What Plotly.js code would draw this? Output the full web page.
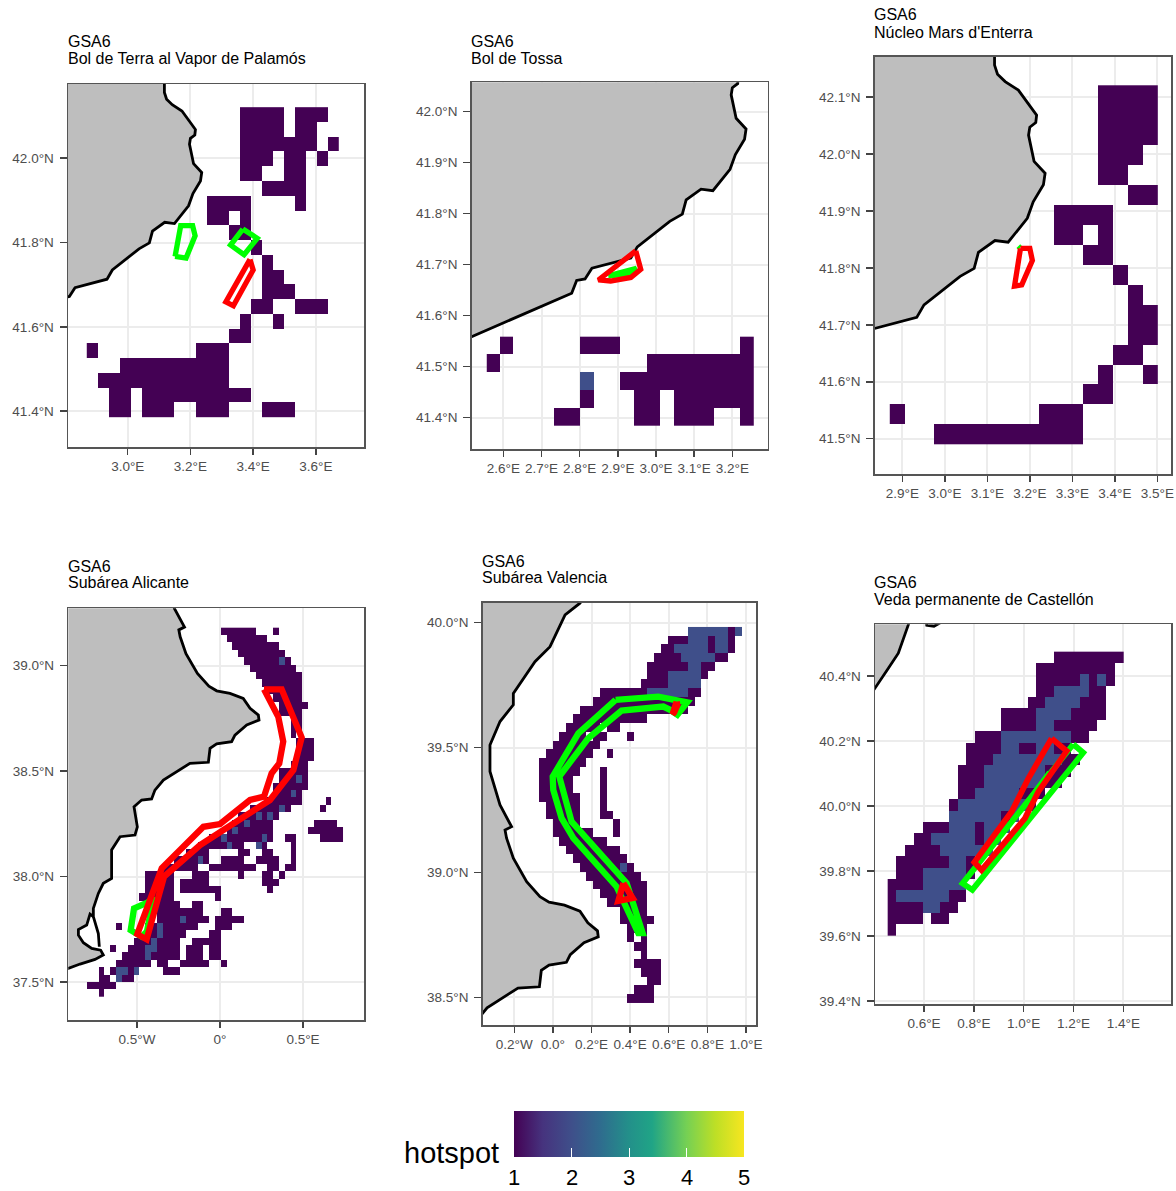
<!DOCTYPE html>
<html>
<head>
<meta charset="utf-8">
<script src="https://cdn.plot.ly/plotly-3.0.1.min.js"></script>
<style>html,body{margin:0;padding:0;background:#fff}</style>
</head>
<body>
<div id="chart" style="width:1176px;height:1191px"></div>
<script>
// ---------- hotspot cells: one string per row, "a-b c" = value 1 columns, after "|" = value 2 columns
const cellSize = 0.035;
const palamosRows = ["14-17 19-21","14-17 19-20","14-20 22","14-16 18-19 21","14-15 18-19","16-19","11-14 19","11-12 14","13-14","15","16","16-17","16-18","15-16 19-21","14 17","13-14","0 10-12","3-12","1-12","2-3 5-14","2-3 5-7 10-12 16-18"];
const tossaRows = ["1 7-9 19","0 12-19","10-19 | 7","7 11-12 14-19","5-6 11-12 14-16 19"];
const enterraRows = ["14-17","14-17","14-17","14-16","14-15","16-17","11-14","11-12 14","13-14","15","16","16-17","16-17","15-16","14 17","13-14","0 10-12","3-12"];
const alicanteRows = [
"23-28 32","24-30","25-32","26-33","27-34 | 33","28-35","29-36","30-36","31-36","32-36","33-37","33-36","35-36","35-36","35",
"36-38","36-38","36-38","35-37","33-37","33-37 | 36","32-37","32-36 | 35","31-36 41","28-34 40 | 33",
"26-32 | 29 31","25-31 39-42 | 27","24-31 38-43 | 25","21-31 34-35 40-43 | 23 30","19-26 29-30 35 | 24 29","17-20 26-27 30-31 35","15-20 23-26 29-32 35 | 19",
"13-18 21-28 31 32 34-35","10-14 18-20 26 30-31 33","10-14 16-20 30-32","10-14 16-22 31","9-14 22","10-15 18-19","12-19 23-24","12-20 22-26 | 16",
"5 10-18 22-24 | 12","10-16 21-22 | 12","8-15 18-22 | 11","4 7-15 17-19 21-22 | 10 11","6-15 17-19 21-22 | 10","5-10 12-13 16-20 23","2 4-8 13-15 | 5 6 8","2-3 5-7 | 5","0-4","2"];
const valenciaRows = [
"28 | 22-27 29","19-21 25 28 | 22-24 26-27","18-19 25 28 | 20-24 26-27","17-20 26-27 | 21-25","16-21 24-25 | 22-23","16-18 24 | 19-23","15-18 | 19-23","9-15 22-23 | 16-21","8-22","6-21",
"5-15","4-8 10-11","3-6 8-9 13","2-8","1-7 10","0-6","0-5 9","0-4 9","0-4 9","0-5 9","1-5 9","1-5 9-10","2-5 11","2-7 11","3-9","4-11","5-12","6-13 | 12","7-14","8-15","9-15","10-15","12-15","12-16","13-15","13 15","14-15","15","14-17","15-17","16-17","14-16","13-16"];
const castellonRows = [
"19-26","17-25","17-21 23 25 | 22 24","17-18 23-24 | 19-22","16-17 22-24 | 18-21","13-16 21-24 | 17-20","13-16 19-23 | 17-18","10-12 21-22 | 13-20","9-12 15-16 19-20 | 13-14 17-18","9-11 20-21 | 12-19",
"8-10 18-20 | 11-17","8-10 18-19 | 11-17","8-9 15-17 | 10-14","7 16 | 8-15","13 | 7-12 14","4-6 10 | 7-9 11-13","3-4 10 | 5-9 11-12","2-5 | 6-11","1-6 9 | 7-8","1-3 9 | 4-8","0-3 | 4-8","0 7-8 | 1-6","0-3 6-7 | 4-5","0-3 5-6","0"];

// ---------- coastlines [lon, lat]
const coastNorth = [[2.4,41.521],[2.517,41.559],[2.779,41.644],[2.792,41.669],[2.814,41.672],[2.832,41.693],[2.906,41.708],[2.934,41.713],[2.951,41.735],[3.036,41.785],[3.069,41.799],[3.079,41.827],[3.118,41.848],[3.149,41.845],[3.194,41.887],[3.208,41.916],[3.232,41.946],[3.236,41.966],[3.21,41.987],[3.197,42.033],[3.2,42.047],[3.214,42.055],[3.216,42.068],[3.173,42.112],[3.142,42.127],[3.124,42.14],[3.117,42.156],[3.117,42.3]];
const landNorthClose = [[2.4,42.3]];
const coastSouth = [[-1.0,37.545],[-0.914,37.564],[-0.843,37.585],[-0.753,37.607],[-0.703,37.628],[-0.719,37.651],[-0.773,37.659],[-0.823,37.686],[-0.853,37.722],[-0.853,37.749],[-0.803,37.77],[-0.783,37.822],[-0.763,37.81],[-0.763,37.849],[-0.733,37.92],[-0.703,37.968],[-0.653,37.991],[-0.653,38.126],[-0.602,38.189],[-0.512,38.197],[-0.498,38.236],[-0.518,38.331],[-0.472,38.363],[-0.412,38.368],[-0.392,38.41],[-0.341,38.458],[-0.181,38.537],[-0.07,38.542],[-0.06,38.608],[-0.02,38.629],[0.07,38.64],[0.09,38.671],[0.161,38.719],[0.235,38.742],[0.231,38.766],[0.181,38.798],[0.14,38.845],[0.06,38.869],[-0.02,38.881],[-0.067,38.903],[-0.136,38.963],[-0.205,39.057],[-0.24,39.137],[-0.248,39.17],[-0.214,39.183],[-0.274,39.27],[-0.326,39.404],[-0.326,39.51],[-0.274,39.604],[-0.205,39.671],[-0.205,39.717],[-0.093,39.844],[-0.015,39.904],[0.063,40.031],[0.14,40.078],[0.3,40.25],[0.403,40.362],[0.457,40.424],[0.497,40.47],[0.537,40.557],[0.56,40.62],[0.6,40.62],[0.611,40.556],[0.64,40.553],[0.68,40.57],[0.72,40.65]];
const landSouthClose = [[0.72,40.8],[-1.2,40.8],[-1.2,37.5]];
const lagoonBarrier = [[-0.763,37.81],[-0.747,37.77],[-0.733,37.73],[-0.727,37.667]];

// ---------- closure polygons [lon, lat]
const palamosGreenA = [[3.151,41.767],[3.169,41.84],[3.207,41.84],[3.215,41.816],[3.186,41.763]];
const palamosGreenB = [[3.367,41.832],[3.413,41.81],[3.371,41.771],[3.328,41.794]];
const palamosRed = [[3.39,41.76],[3.40,41.735],[3.337,41.65],[3.313,41.659]];
const tossaGreen = [[2.875,41.678],[2.949,41.693],[2.932,41.682]];
const tossaRed = [[2.947,41.727],[2.96,41.691],[2.934,41.675],[2.881,41.668],[2.849,41.67]];
const enterraGreen = [[3.173,41.838],[3.177,41.835]];
const enterraRed = [[3.178,41.834],[3.2,41.834],[3.206,41.813],[3.181,41.77],[3.164,41.768],[3.173,41.814]];
const alicanteGreen = [[-0.438,37.876],[-0.518,37.849],[-0.538,37.746],[-0.472,37.715],[-0.44,37.74],[-0.40,37.9]];
const alicanteRed = [[0.265,38.888],[0.3715,38.888],[0.492,38.66],[0.442,38.505],[0.301,38.363],[0.14,38.284],[-0.12,38.149],[-0.337,38.0],[-0.442,37.702],[-0.498,37.727],[-0.351,38.039],[-0.1,38.236],[0,38.249],[0.181,38.363],[0.265,38.379],[0.311,38.49],[0.357,38.537],[0.381,38.64],[0.351,38.758]];
const valenciaGreen = [[0.325,39.691],[0.546,39.704],[0.696,39.681],[0.645,39.631],[0.607,39.651],[0.572,39.664],[0.356,39.648],[0.183,39.537],[0.033,39.384],[0.097,39.203],[0.382,38.957],[0.465,38.757],[0.4425,38.757],[0.33,38.943],[0.106,39.137],[0.045,39.217],[0.002,39.33],[-0.001,39.384],[0.132,39.557]];
const valenciaRedA = [[0.365,38.957],[0.413,38.897],[0.339,38.886]];
const valenciaRedB = [[0.641,39.684],[0.645,39.67],[0.628,39.64],[0.62,39.633]];
const castellonGreenA = [[1.199,40.19],[1.239,40.164],[0.794,39.742],[0.755,39.762]];
const castellonGreenB = [[0.825,39.824],[1.099,40.106]];
const castellonRed = [[1.112,40.208],[1.1725,40.169],[1.059,40.044],[1.005,39.962],[0.831,39.803],[0.802,39.827],[0.952,39.983],[1.019,40.085]];

// ---------- titles and ticks
const mainTitle = "GSA6";
const subTitles = ["Bol de Terra al Vapor de Palamós","Bol de Tossa","Núcleo Mars d'Enterra","Subárea Alicante","Subárea Valencia","Veda permanente de Castellón"];
const ticksLon = [[3.0,3.2,3.4,3.6],[2.6,2.7,2.8,2.9,3.0,3.1,3.2],[2.9,3.0,3.1,3.2,3.3,3.4,3.5],[-0.5,0,0.5],[-0.2,0,0.2,0.4,0.6,0.8,1.0],[0.6,0.8,1.0,1.2,1.4]];
const labelsLon = [["3.0°E","3.2°E","3.4°E","3.6°E"],["2.6°E","2.7°E","2.8°E","2.9°E","3.0°E","3.1°E","3.2°E"],["2.9°E","3.0°E","3.1°E","3.2°E","3.3°E","3.4°E","3.5°E"],["0.5°W","0°","0.5°E"],["0.2°W","0.0°","0.2°E","0.4°E","0.6°E","0.8°E","1.0°E"],["0.6°E","0.8°E","1.0°E","1.2°E","1.4°E"]];
const ticksLat = [[41.4,41.6,41.8,42.0],[41.4,41.5,41.6,41.7,41.8,41.9,42.0],[41.5,41.6,41.7,41.8,41.9,42.0,42.1],[37.5,38.0,38.5,39.0],[38.5,39.0,39.5,40.0],[39.4,39.6,39.8,40.0,40.2,40.4]];
const labelsLat = [["41.4°N","41.6°N","41.8°N","42.0°N"],["41.4°N","41.5°N","41.6°N","41.7°N","41.8°N","41.9°N","42.0°N"],["41.5°N","41.6°N","41.7°N","41.8°N","41.9°N","42.0°N","42.1°N"],["37.5°N","38.0°N","38.5°N","39.0°N"],["38.5°N","39.0°N","39.5°N","40.0°N"],["39.4°N","39.6°N","39.8°N","40.0°N","40.2°N","40.4°N"]];
const legendTicks = [1,2,3,4,5];
const legendTitle = "hotspot";

// ---------- layout of the six panels (pixels, ranges, grid origin)
const W = 1176, H = 1191;
const panels = [
 {box:[68,364,84,447],   lon:[2.8096,3.7535], lat:[41.315,42.176],  x0:2.887,   y0:42.1035, rows:palamosRows, north:true, titleY:[42,59], titleX:68, green:[palamosGreenA,palamosGreenB], red:[palamosRed], lw:5.3},
 {box:[471.7,767.7,82.3,449], lon:[2.517,3.2927], lat:[41.3386,42.0576], x0:2.574, y0:41.5413, rows:tossaRows, north:true, titleY:[41,58], titleX:471, green:[tossaGreen], red:[tossaRed], lw:5.3},
 {box:[874.7,1171,56.7,474.3], lon:[2.835,3.5322], lat:[41.4375,42.1707], x0:2.888, y0:42.103, rows:enterraRows, north:true, titleY:[15,32], titleX:874, green:[enterraGreen], red:[enterraRed], lw:5.3},
 {box:[68.3,364,608.3,1020], lon:[-0.9139,0.8675], lat:[37.3197,39.2723], x0:-0.7837, y0:39.1628, rows:alicanteRows, north:false, titleY:[566,583], titleX:68, green:[alicanteGreen], red:[alicanteRed], lw:6.3},
 {box:[482.7,756,602.7,1025], lon:[-0.3637,1.0523], lat:[38.389,40.08], x0:-0.0545, y0:39.9653, rows:valenciaRows, north:false, titleY:[561,578], titleX:482, green:[valenciaGreen], red:[valenciaRedA,valenciaRedB], lw:6.3},
 {box:[875,1171,624.3,1004], lon:[0.4034,1.5912], lat:[39.3908,40.559], x0:0.4718, y0:40.4573, rows:castellonRows, north:false, titleY:[582,599], titleX:874, green:[castellonGreenA], red:[castellonRed], lw:5.8}
];

const colors = [[0,"#440154"],[0.125,"#46337e"],[0.25,"#3f4f8a"],[0.375,"#2f6c8e"],[0.5,"#23908a"],[0.6,"#20a486"],[0.75,"#75d054"],[0.875,"#bddf26"],[1,"#f7e620"]];
const fontFamily = "Liberation Sans, Arial, sans-serif";

function parseCols(s){
  const out=[];
  s.trim().split(/\s+/).filter(Boolean).forEach(t=>{
    const p=t.split("-").map(Number);
    const a=p[0], b=p.length>1?p[1]:p[0];
    for(let i=a;i<=b;i++) out.push(i);
  });
  return out;
}
function gridFromRows(rows){
  let maxCol=0;
  const parsed=rows.map(r=>{
    const parts=r.split("|");
    const ones=parseCols(parts[0]), twos=parts[1]?parseCols(parts[1]):[];
    ones.concat(twos).forEach(c=>{if(c>maxCol)maxCol=c;});
    return {ones,twos};
  });
  return parsed.map(p=>{
    const line=new Array(maxCol+1).fill(null);
    p.ones.forEach(c=>line[c]=1);
    p.twos.forEach(c=>line[c]=2);
    return line;
  });
}
const lons=a=>a.map(p=>p[0]);
const lats=a=>a.map(p=>p[1]);
const closed=a=>a.concat([a[0]]);
function textNote(px,py,text,size){
  return {xref:"paper",yref:"paper",x:px/W,y:1-py/H,xanchor:"left",yanchor:"middle",align:"left",showarrow:false,xshift:-2,text:text,font:{size:size,color:"#000",family:fontFamily}};
}

const traces=[];
const layout={
  width:W,height:H,margin:{l:0,r:0,t:0,b:0},paper_bgcolor:"#fff",plot_bgcolor:"#fff",showlegend:false,
  font:{family:fontFamily},annotations:[],shapes:[]
};
panels.forEach((p,i)=>{
  const n=i===0?"":String(i+1);
  const xa="x"+n, ya="y"+n;
  const axisCommon={
    showline:true,mirror:true,linecolor:"#555555",linewidth:1.5,
    showgrid:true,gridcolor:"#ececec",gridwidth:2,zeroline:false,
    ticks:"outside",tickwidth:1.5,tickcolor:"#444444",
    tickfont:{size:13.5,color:"#4d4d4d",family:fontFamily},
    tickmode:"array",fixedrange:true
  };
  layout["xaxis"+n]=Object.assign({},axisCommon,{domain:[p.box[0]/W,p.box[1]/W],anchor:ya,range:p.lon,tickvals:ticksLon[i],ticktext:labelsLon[i],ticklen:6});
  layout["yaxis"+n]=Object.assign({},axisCommon,{domain:[1-p.box[3]/H,1-p.box[2]/H],anchor:xa,range:p.lat,tickvals:ticksLat[i],ticktext:labelsLat[i],ticklen:7,ticklabelstandoff:3});

  const hm={type:"heatmap",xaxis:xa,yaxis:ya,z:gridFromRows(p.rows),x0:p.x0,dx:cellSize,y0:p.y0,dy:-cellSize,zmin:1,zmax:5,colorscale:colors,showscale:i===0,hoverinfo:"skip",zsmooth:false};
  if(i===0){
    hm.colorbar={orientation:"h",lenmode:"pixels",len:230,thicknessmode:"pixels",thickness:46,x:514/W,xanchor:"left",y:1-1166/H,yanchor:"bottom",xpad:0,ypad:0,
      tickmode:"array",tickvals:legendTicks,ticks:"inside",ticklen:9,tickwidth:1,tickcolor:"#ffffff",outlinewidth:0,borderwidth:0,showticklabels:false};
  }
  traces.push(hm);

  const coast=p.north?coastNorth:coastSouth;
  const land=coast.concat(p.north?landNorthClose:landSouthClose);
  traces.push({type:"scatter",mode:"lines",xaxis:xa,yaxis:ya,x:lons(closed(land)),y:lats(closed(land)),fill:"toself",fillcolor:"#bebebe",line:{width:0,color:"rgba(0,0,0,0)"},hoverinfo:"skip"});
  traces.push({type:"scatter",mode:"lines",xaxis:xa,yaxis:ya,x:lons(coast),y:lats(coast),line:{color:"#000",width:2.8},hoverinfo:"skip"});
  if(!p.north) traces.push({type:"scatter",mode:"lines",xaxis:xa,yaxis:ya,x:lons(lagoonBarrier),y:lats(lagoonBarrier),line:{color:"#000",width:2.8},hoverinfo:"skip"});

  p.green.forEach(g=>traces.push({type:"scatter",mode:"lines",xaxis:xa,yaxis:ya,x:lons(closed(g)),y:lats(closed(g)),line:{color:"#00ff00",width:p.lw},hoverinfo:"skip"}));
  if(i===5) traces.push({type:"scatter",mode:"lines",xaxis:xa,yaxis:ya,x:lons(castellonGreenB),y:lats(castellonGreenB),line:{color:"#00ff00",width:2.5},hoverinfo:"skip"});
  p.red.forEach(g=>traces.push({type:"scatter",mode:"lines",xaxis:xa,yaxis:ya,x:lons(closed(g)),y:lats(closed(g)),line:{color:"#ff0000",width:p.lw},hoverinfo:"skip"}));

  layout.annotations.push(textNote(p.titleX,p.titleY[0],mainTitle,16));
  layout.annotations.push(textNote(p.titleX,p.titleY[1],subTitles[i],16));
});
layout.annotations.push(textNote(404,1153,legendTitle,29));
legendTicks.forEach(v=>{
  const px=514+(v-1)*57.5;
  const note=textNote(px,1177,String(v),22);
  note.xanchor="center"; note.xshift=0; note.height=24; note.borderpad=0; note.align="center";
  layout.annotations.push(note);
  if(v>1&&v<5) layout.shapes.push({type:"line",xref:"paper",yref:"paper",x0:px/W,x1:px/W,y0:1-1111/H,y1:1-1120/H,line:{color:"#ffffff",width:1},layer:"above"});
});
Plotly.newPlot("chart",traces,layout,{displayModeBar:false,staticPlot:true});
</script>
</body>
</html>
